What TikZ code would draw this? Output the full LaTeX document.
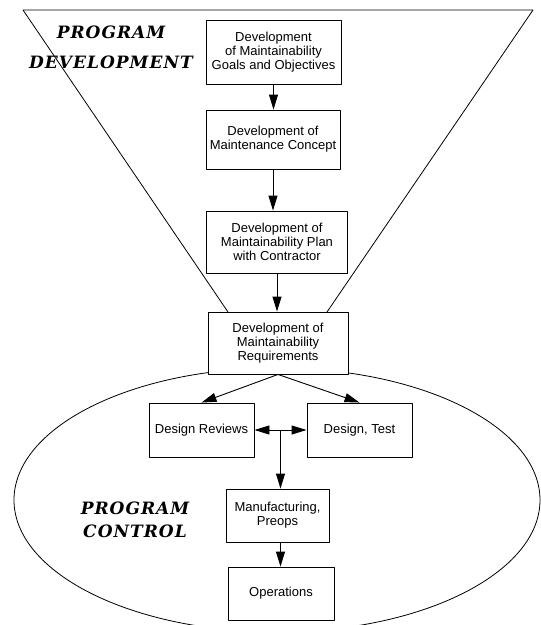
\documentclass[tikz,border=0pt]{standalone}
\usepackage{fontspec}
\usetikzlibrary{arrows.meta}
\newfontfamily\boxfont{Liberation Sans}
\newfontfamily\headfont[LetterSpace=6]{DejaVu Serif}
\begin{document}
\begin{tikzpicture}[x=1pt, y=-1pt, line join=round,
	box/.style={draw, fill=white, line width=0.9pt, align=center, inner sep=2pt,
		font=\boxfont\fontsize{13}{14}\selectfont},
	heading/.style={align=center, inner sep=0pt,
		font=\headfont\bfseries\itshape\fontsize{17}{#1}\selectfont},
	arr/.style={-{Triangle[length=15pt,width=9pt]}, line width=0.9pt}]
	\useasboundingbox (0,0) rectangle (541,625);
	\path
	(23,10) coordinate (tl)
	(533,10) coordinate (tr)
	(228,312) coordinate (bl)
	(327,312) coordinate (br);
	% funnel and oval
	\draw[line width=0.8pt] (bl) -- (tl) -- (tr) -- (br);
	\draw[line width=0.8pt] (277,500) ellipse [x radius=263pt, y radius=132pt];
	\node[heading=30] (dev) at (111,47) {PROGRAM\\DEVELOPMENT};
	\node[heading=23] (ctrl) at (135,519.5) {PROGRAM\\CONTROL};
	% boxes
	\node[box, minimum width=135pt, minimum height=64pt] (goals) at (273.5,52)
	{Development\\of Maintainability\\Goals and Objectives};
	\node[box, minimum width=134pt, minimum height=59pt] (concept) at (273,139.5)
	{Development of\\Maintenance Concept};
	\node[box, minimum width=141pt, minimum height=62pt] (plan) at (277,242)
	{Development of\\Maintainability Plan\\with Contractor};
	\node[box, minimum width=140pt, minimum height=62pt] (req) at (278,343)
	{Development of\\Maintainability\\Requirements};
	\node[box, minimum width=105pt, minimum height=54pt] (reviews) at (201.5,430) {Design Reviews};
	\node[box, minimum width=105pt, minimum height=54pt] (test) at (359.5,430) {Design, Test};
	\node[box, minimum width=103pt, minimum height=53pt] (manuf) at (277.5,515.5)
	{Manufacturing,\\Preops};
	\node[box, minimum width=106pt, minimum height=53pt] (ops) at (281,593.5) {Operations};
	% arrows
	\draw[arr] (goals.south) -- (goals.south |- concept.north);
	\draw[arr] (concept.south) -- (concept.south |- plan.north);
	\draw[arr] (plan.south) -- (plan.south |- req.north);
	\foreach \b in {reviews, test}
	\draw[arr] (req.south) -- (\b.north);
	\path (reviews.east) -- (test.west) coordinate[midway] (j);
	\draw[arr] (j) -- (reviews.east);
	\draw[arr] (j) -- (test.west);
	\draw[arr] (j) -- (j |- manuf.north);
	\draw[arr] (j |- manuf.south) -- (j |- ops.north);
\end{tikzpicture}
\end{document}
